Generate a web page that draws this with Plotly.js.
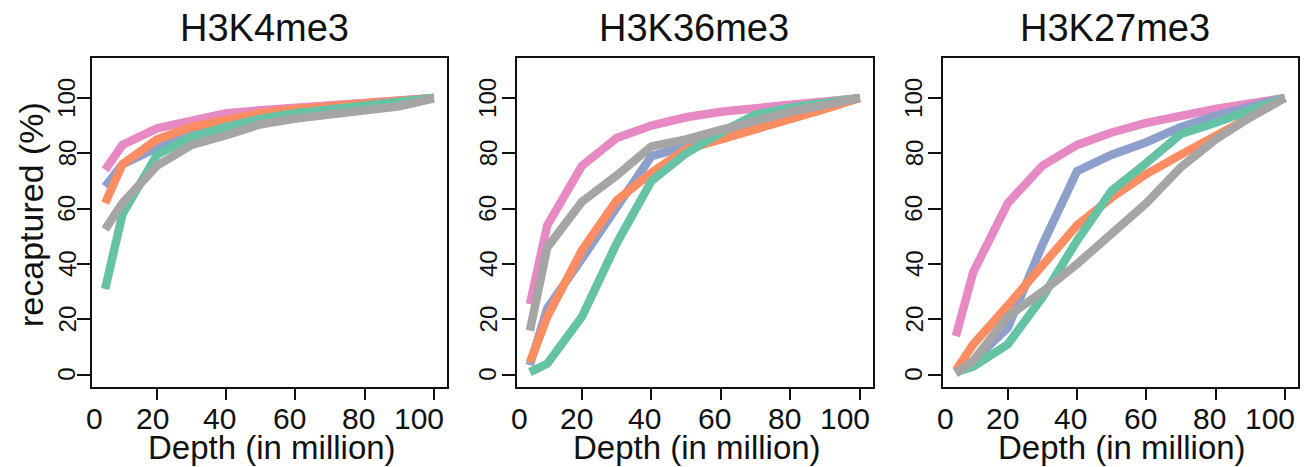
<!DOCTYPE html>
<html>
<head>
<meta charset="utf-8">
<script src="https://cdn.plot.ly/plotly-3.0.1.min.js"></script>
<style>html,body{margin:0;padding:0;background:#fff;}#chart{width:1305px;height:467px;}</style>
</head>
<body>
<div id="chart"></div>
<script>
// Data
const depth = [5, 10, 20, 30, 40, 50, 60, 70, 80, 90, 100];
const marks = ['H3K4me3', 'H3K36me3', 'H3K27me3'];
const seriesColors = ['#e78ac3', '#8da0cb', '#fc8d62', '#66c2a5', '#a5a5a5'];
const xTicks = [20, 40, 60, 80, 100];
const xTickLabels = ['20', '40', '60', '80', '100'];
const yTicks = [0, 20, 40, 60, 80, 100];
const yTickLabels = ['0', '20', '40', '60', '80', '100'];

// H3K4me3
const k4_pink   = [74, 83, 89, 92, 94.5, 95.5, 96.5, 97.3, 98, 99, 100];
const k4_blue   = [68, 76, 82, 87, 90, 93, 95, 96.5, 97.5, 98.7, 100];
const k4_orange = [62, 76, 85, 89.5, 92, 94.5, 96, 97, 98, 99, 100];
const k4_green  = [31, 58, 79.5, 86, 89.5, 92.5, 94.5, 96, 97.5, 98.8, 100];
const k4_gray   = [52.5, 62, 75.5, 83, 86.5, 90.5, 92.5, 94, 95.5, 97, 99.8];
// H3K36me3
const k36_pink   = [25.5, 54, 75.5, 85.5, 90, 93, 95, 96.5, 97.5, 98.7, 100];
const k36_blue   = [3.5, 24, 42, 60, 79, 82.5, 86.5, 91, 94.5, 97.5, 100];
const k36_orange = [4.5, 21, 45, 63, 73, 81.5, 85, 88.5, 92, 96, 100];
const k36_green  = [1, 4, 21, 47.5, 70, 80, 87.5, 94, 96.5, 98.5, 100];
const k36_gray   = [16, 46, 62.5, 72, 82.5, 85, 88.5, 92, 95, 97.5, 100];
// H3K27me3
const k27_pink   = [14, 37, 62, 75.5, 83, 87.5, 91, 93.8, 96, 98, 100];
const k27_blue   = [1, 5, 17, 47, 73.5, 79.5, 84, 89.5, 93.5, 97, 100];
const k27_orange = [1.5, 11, 25, 40, 54, 64, 72.5, 79.5, 86, 93, 100];
const k27_green  = [1, 3, 11, 28, 48.5, 66.5, 76.5, 87, 91, 95.5, 100];
const k27_gray   = [0.5, 5, 21, 30, 40, 51, 62, 75, 85, 93, 100];

const panels = [
  [k4_pink, k4_blue, k4_orange, k4_green, k4_gray],
  [k36_pink, k36_blue, k36_orange, k36_green, k36_gray],
  [k27_pink, k27_blue, k27_orange, k27_green, k27_gray]
];

const W = 1305, H = 467;
const FONT = 'Liberation Sans, Arial, Helvetica, sans-serif';
const boxes = [[92, 447], [516.7, 873], [942.7, 1298]];
const boxTop = 58, boxBottom = 387;
const titleCenters = [264, 694, 1115];
const yLabelCenters = [67, 488, 914];
const xLabelShift = [-5, -7, -6, -6, -15];

const traces = [];
panels.forEach((series, p) => {
  series.forEach((vals, s) => {
    traces.push({
      x: depth, y: vals, type: 'scatter', mode: 'lines',
      xaxis: p === 0 ? 'x' : 'x' + (p + 1),
      yaxis: p === 0 ? 'y' : 'y' + (p + 1),
      line: {color: seriesColors[s], width: 8.5},
      showlegend: false, hoverinfo: 'skip'
    });
  });
});

const layout = {
  width: W, height: H, autosize: false,
  margin: {l: 0, r: 0, t: 0, b: 0, pad: 0},
  paper_bgcolor: '#fff', plot_bgcolor: '#fff',
  font: {family: FONT, color: '#111'},
  annotations: []
};

boxes.forEach((b, p) => {
  const sx = p === 0 ? '' : String(p + 1);
  layout['xaxis' + sx] = {
    domain: [b[0] / W, b[1] / W],
    anchor: 'y' + sx,
    range: [1.2, 103.8],
    tickmode: 'array', tickvals: xTicks, showticklabels: false,
    ticks: 'outside', ticklen: 11, tickwidth: 2, tickcolor: '#111',
    showline: true, linecolor: '#111', linewidth: 2, mirror: true,
    showgrid: false, zeroline: false
  };
  layout['yaxis' + sx] = {
    domain: [1 - boxBottom / H, 1 - boxTop / H],
    anchor: 'x' + sx,
    range: [-4.4, 114.4],
    tickmode: 'array', tickvals: yTicks, showticklabels: false,
    ticks: 'outside', ticklen: 13, tickwidth: 2, tickcolor: '#111',
    showline: true, linecolor: '#111', linewidth: 2, mirror: true,
    showgrid: false, zeroline: false
  };
  // panel title
  layout.annotations.push({
    text: marks[p], xref: 'paper', yref: 'paper',
    x: titleCenters[p] / W, y: 1 - 28 / H, xanchor: 'center', yanchor: 'middle',
    showarrow: false, font: {family: FONT, size: 38, color: '#111'}
  });
  // x tick labels
  layout.annotations.push({
    text: '0', xref: 'x' + sx, yref: 'paper',
    x: 2, y: 1 - 418 / H, xanchor: 'center', yanchor: 'middle',
    showarrow: false, font: {family: FONT, size: 30, color: '#111'}
  });
  xTicks.forEach((v, i) => {
    layout.annotations.push({
      text: xTickLabels[i], xref: 'x' + sx, yref: 'paper',
      x: v, xshift: xLabelShift[i], y: 1 - 418 / H, xanchor: 'center', yanchor: 'middle',
      showarrow: false, font: {family: FONT, size: 30, color: '#111'}
    });
  });
  // y tick labels (rotated, parallel to the axis)
  yTicks.forEach((v, i) => {
    layout.annotations.push({
      text: yTickLabels[i], xref: 'paper', yref: 'y' + sx,
      x: yLabelCenters[p] / W, y: v, xanchor: 'center', yanchor: 'middle',
      textangle: -90, showarrow: false, font: {family: FONT, size: 24, color: '#111'}
    });
  });
  // x axis title
  layout.annotations.push({
    text: 'Depth (in million)', xref: 'paper', yref: 'paper',
    x: ((b[0] + b[1]) / 2 + 2) / W, y: 1 - 447 / H, xanchor: 'center', yanchor: 'middle',
    showarrow: false, font: {family: FONT, size: 33, color: '#111'}
  });
});

// y axis title (left panel only)
layout.annotations.push({
  text: 'recaptured (%)', xref: 'paper', yref: 'paper',
  x: 31 / W, y: 1 - 215 / H, xanchor: 'center', yanchor: 'middle',
  textangle: -90, showarrow: false, font: {family: FONT, size: 34, color: '#111'}
});

Plotly.newPlot('chart', traces, layout, {displayModeBar: false, staticPlot: true});
</script>
</body>
</html>
